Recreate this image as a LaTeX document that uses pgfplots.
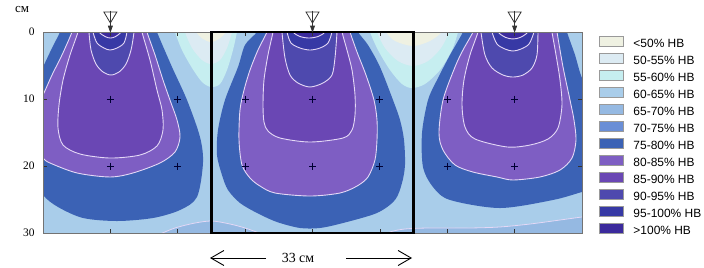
\documentclass[border=0pt]{standalone}
\usepackage{fontspec}
\setmainfont{Liberation Serif}
\newfontfamily\legfont{Liberation Sans}
\usepackage{pgfplots}
\pgfplotsset{compat=1.18}
\usetikzlibrary{arrows.meta}

\definecolor{cA}{HTML}{EFF1E2}
\definecolor{cB}{HTML}{DCEBF3}
\definecolor{cC}{HTML}{C6EEF0}
\definecolor{cD}{HTML}{A9CDEA}
\definecolor{cE}{HTML}{95B9E2}
\definecolor{cF}{HTML}{6A8ED6}
\definecolor{cG}{HTML}{3B62B5}
\definecolor{cH}{HTML}{7E5EC3}
\definecolor{cI}{HTML}{6A47B4}
\definecolor{cJ}{HTML}{4E49AE}
\definecolor{cK}{HTML}{3739A5}
\definecolor{cL}{HTML}{3B2A9C}
\definecolor{cline}{HTML}{E4D8F6}

\pgfdeclareplotmark{emitter}{%
  \pgfsetlinewidth{0.8bp}%
  \pgfpathmoveto{\pgfqpoint{-6.5bp}{20bp}}%
  \pgfpathlineto{\pgfqpoint{6.5bp}{20bp}}%
  \pgfpathlineto{\pgfqpoint{0bp}{9bp}}%
  \pgfpathclose
  \pgfusepathqstroke
  \pgfpathmoveto{\pgfqpoint{0bp}{21.5bp}}%
  \pgfpathlineto{\pgfqpoint{0bp}{3bp}}%
  \pgfusepathqstroke
  \pgfpathmoveto{\pgfqpoint{-2bp}{6bp}}%
  \pgfpathlineto{\pgfqpoint{2bp}{6bp}}%
  \pgfpathlineto{\pgfqpoint{0bp}{0.5bp}}%
  \pgfpathclose
  \pgfusepathqfillstroke
}

\begin{document}
\begin{tikzpicture}
\useasboundingbox (0,0) rectangle (704bp,268bp);
\pgfplotsset{base/.style={scale only axis, width=539bp, height=201bp,
  at={(43bp,35bp)}, anchor=south west,
  xmin=0, xmax=88, ymin=0, ymax=30, y dir=reverse},
  lvl/.style={draw=cline, line width=0.9bp, smooth},
  blk/.style={draw=none, smooth}}

\begin{axis}[base, hide axis]
% background 60-65
\addplot[fill=cD, draw=none] coordinates {(-2,-2) (90,-2) (90,32) (-2,32)} -- cycle;
% bottom 65-70
\addplot[fill=cE, lvl, line width=0.8bp] coordinates {(16.5,31) (17.47,30.6) (19.10,30.15) (21.55,29.25) (24.82,28.51) (27.59,28.21) (30.53,28.66) (32.98,29.25) (35.76,30.15) (37.06,30.6) (38,31)} -- cycle;
\addplot[fill=cE, lvl, line width=0.8bp] coordinates {(55,31) (55.51,30.6) (56.65,29.85) (59.10,29.40) (63.18,29.25) (69.71,29.25) (74.61,29.10) (79.51,28.66) (84.41,28.06) (88,27.61) (90,27.4) (91,33)} -- cycle;
% top arches between emitters
\addplot[fill=cC, blk] coordinates {(21.3,-1.5) (21.55,0) (22.69,2.69) (24.33,5.37) (25.96,7.46) (27.43,8.21) (28.90,7.76) (30.04,5.67) (31.02,2.69) (31.67,0) (31.9,-1.5)} -- cycle;
\addplot[fill=cB, blk] coordinates {(23.0,-1.5) (23.18,0) (24.33,2.39) (25.96,4.18) (27.43,4.78) (28.90,4.18) (30.04,2.39) (30.86,0) (31.0,-1.5)} -- cycle;
\addplot[fill=cA, blk] coordinates {(24.8,-1) (24.98,0) (26.12,1.04) (27.43,1.49) (28.73,1.04) (29.88,0) (30.0,-1)} -- cycle;
\addplot[fill=cC, blk] coordinates {(53.1,-1.5) (53.39,0) (54.69,2.69) (56.65,5.67) (58.61,7.76) (60.24,8.36) (62.37,7.76) (64.82,5.67) (66.78,2.69) (67.76,0) (68.0,-1.5)} -- cycle;
\addplot[fill=cB, blk] coordinates {(54.3,-1.5) (54.53,0) (55.84,2.39) (57.96,4.33) (60.41,5.07) (62.86,4.33) (64.98,2.39) (66.29,0) (66.5,-1.5)} -- cycle;
\addplot[fill=cA, blk] coordinates {(55.8,-1) (56.0,0) (57.47,1.34) (60.41,2.09) (63.18,1.34) (65.14,0) (65.3,-1)} -- cycle;

% ---- left emitter
\addplot[fill=cG, blk] coordinates {(3.2,-1.5) (2.78,0) (1.47,2.39) (0,5.22) (-2,9) (-2,21) (0,24.33) (2.45,26.12) (6.53,27.76) (12.08,28.21) (17.96,27.76) (22.37,26.57) (25.14,24.63) (26.12,19.55) (25.63,15.67) (23.51,10.15) (21.06,5.22) (18.61,0) (18.2,-1.5)} -- cycle;
\addplot[fill=cH, lvl] coordinates {(5.0,-1.5) (4.73,0) (3.10,3.43) (1.47,6.42) (0,9.40) (-2,13) (-2,17) (0,18.81) (1.14,19.55) (5.55,21.04) (10.94,21.64) (14.69,21.04) (19.10,19.55) (21.55,17.91) (22.37,15.67) (21.88,13.13) (20.73,10.15) (19.59,7.16) (18.29,3.43) (16.98,0) (16.7,-1.5)} -- cycle;
\addplot[fill=cI, lvl] coordinates {(5.9,-1.5) (5.71,0) (4.41,3.43) (3.27,7.16) (2.61,10.90) (2.45,14.33) (3.27,16.87) (6.04,18.21) (10.94,18.81) (15.84,18.36) (18.61,17.01) (19.59,14.63) (19.43,11.64) (18.61,8.66) (17.47,4.18) (16.16,0) (15.9,-1.5)} -- cycle;
\addplot[fill=cJ, lvl] coordinates {(7.5,-1.5) (7.51,0) (7.84,2.69) (8.65,4.78) (9.80,5.97) (11.10,6.42) (12.41,5.97) (13.55,4.78) (14.37,2.69) (14.86,0) (14.9,-1.5)} -- cycle;
\addplot[fill=cK, lvl] coordinates {(8.16,-1) (8.16,0) (8.82,1.64) (9.96,2.39) (10.94,2.69) (12.08,2.39) (13.22,1.64) (13.71,0) (13.71,-1)} -- cycle;
\addplot[fill=cL, lvl] coordinates {(9.14,-1) (9.14,0) (10.2,0.7) (11.0,0.9) (11.8,0.7) (12.73,0) (12.73,-1)} -- cycle;

% ---- centre emitter
\addplot[fill=cG, blk] coordinates {(35.5,-1.5) (34.94,0) (32.98,1.94) (31.84,5.22) (29.71,10.15) (28.57,14.63) (28.41,18.36) (29.22,21.34) (30.20,23.58) (32.16,25.52) (34.94,27.01) (38.20,28.36) (41.96,29.25) (45.22,29.25) (48.98,28.51) (54.53,27.01) (57.47,25.07) (58.61,22.54) (59.10,19.85) (58.94,16.12) (58.29,13.13) (57.14,10.15) (55.02,5.22) (53.06,1.94) (51.43,0) (51.0,-1.5)} -- cycle;
\addplot[fill=cH, lvl] coordinates {(37.0,-1.5) (36.57,0) (35.10,2.69) (33.80,5.67) (32.82,8.66) (32.16,11.64) (32.00,16.12) (32.49,19.85) (33.80,21.79) (35.43,22.99) (37.88,24.03) (43.59,24.48) (48.49,24.03) (51.27,22.99) (53.06,21.64) (54.20,19.10) (54.53,16.12) (54.53,13.13) (54.04,10.15) (52.73,6.42) (51.27,2.99) (50.12,0) (49.7,-1.5)} -- cycle;
\addplot[fill=cI, lvl] coordinates {(37.7,-1.5) (37.55,0) (36.73,3.43) (36.08,7.16) (35.92,10.90) (36.08,13.43) (36.73,14.78) (38.69,15.82) (43.59,16.42) (48.98,15.82) (50.45,14.63) (50.94,12.39) (50.94,9.40) (50.45,5.67) (49.63,2.69) (48.82,0) (48.6,-1.5)} -- cycle;
\addplot[fill=cJ, lvl] coordinates {(39.0,-1.5) (39.02,0) (39.51,3.88) (40.33,6.42) (41.63,7.61) (43.59,8.21) (45.71,7.61) (47.18,6.42) (47.67,3.88) (48.00,0) (48.0,-1.5)} -- cycle;
\addplot[fill=cK, lvl] coordinates {(39.84,-1) (39.84,0) (40.49,1.64) (41.96,2.39) (43.59,2.69) (45.22,2.39) (46.53,1.64) (47.18,0) (47.18,-1)} -- cycle;
\addplot[fill=cL, lvl] coordinates {(40.82,-1) (40.82,0) (41.96,0.67) (43.43,0.90) (44.90,0.67) (46.04,0) (46.04,-1)} -- cycle;

% ---- right emitter
\addplot[fill=cG, blk] coordinates {(69.0,-1.5) (68.57,0) (66.45,3.43) (64.33,7.16) (62.86,10.15) (61.88,15.07) (62.04,20.15) (63.67,23.13) (66.45,25.07) (74.61,26.27) (83.27,25.07) (88,23.88) (90,23.5) (90,10) (88,6.87) (86.86,3.43) (85.55,0) (85.3,-1.5)} -- cycle;
\addplot[fill=cH, lvl] coordinates {(70.5,-1.5) (70.20,0) (68.57,2.69) (67.27,5.22) (65.31,10.15) (64.65,15.07) (65.31,17.61) (67.27,19.85) (70.20,20.90) (74.12,21.64) (76.73,22.09) (81.14,21.64) (84.41,20.60) (86.37,18.81) (87.02,16.12) (86.69,13.13) (86.04,10.15) (84.90,5.22) (83.92,0) (83.7,-1.5)} -- cycle;
\addplot[fill=cI, lvl] coordinates {(71.2,-1.5) (71.02,0) (69.71,3.43) (68.73,7.16) (68.41,10.90) (68.90,14.18) (70.53,15.97) (75.76,17.16) (79.51,16.87) (82.45,15.97) (84.08,14.33) (84.73,10.90) (84.41,7.16) (83.76,3.43) (83.10,0) (82.9,-1.5)} -- cycle;
\addplot[fill=cJ, lvl] coordinates {(71.5,-1.5) (71.51,0) (72.16,3.43) (73.31,5.37) (75.10,6.42) (76.73,6.72) (78.37,6.42) (79.84,5.37) (80.65,3.43) (80.82,0) (80.82,-1.5)} -- cycle;
\addplot[fill=cK, lvl] coordinates {(73.31,-1) (73.31,0) (74.12,1.79) (75.43,2.54) (76.73,2.84) (78.04,2.54) (79.35,1.79) (80.16,0) (80.16,-1)} -- cycle;
\addplot[fill=cL, lvl] coordinates {(74.29,-1) (74.29,0) (75.5,0.8) (76.73,1.04) (77.96,0.8) (79.18,0) (79.18,-1)} -- cycle;
\end{axis}

\begin{axis}[base, clip=false,
  axis line style={draw=black!55, line width=0.5bp},
  tick align=inside, major tick length=4bp,
  xtick={0,11,...,88}, xticklabel=\empty,
  ytick={0,10,20,30}, yticklabel pos=left,
  tick style={draw=black!80, line width=0.6bp},
  /pgf/number format/assume math mode=true,
  yticklabel style={font=\fontsize{11.5}{12}\selectfont, xshift=-5bp},
  legend cell align=left,
  legend image code/.code={\draw[#1, draw=black!40, line width=0.5bp] (0bp,-1.5bp) rectangle (24bp,8.5bp);},
  legend style={at={(1.0315,0.9826)}, anchor=north west, draw=none, fill=none,
    inner sep=0pt, outer sep=0pt, row sep=2.8bp, column sep=10bp,
    font=\legfont\fontsize{12}{12}\selectfont,
    nodes={inner sep=0pt, text height=8.5bp, text depth=2.5bp}},
]
\addplot[only marks, mark=+, mark size=3.5bp, color=black!80!blue, line width=0.8bp, forget plot]
  coordinates {(11,10) (22,10) (33,10) (44,10) (55,10) (66,10) (77,10)
               (11,20) (22,20) (33,20) (44,20) (55,20) (66,20) (77,20)};
\addplot[only marks, mark=emitter, color=black!80, forget plot] coordinates {(11,0) (44,0) (77,0)};
\addplot[black, line width=2.2bp, line join=miter, forget plot] coordinates {(27.5,0) (60.5,0) (60.5,30) (27.5,30)} -- cycle;

\addlegendimage{fill=cA}\addlegendentry{<50\% HB}
\addlegendimage{fill=cB}\addlegendentry{50-55\% HB}
\addlegendimage{fill=cC}\addlegendentry{55-60\% HB}
\addlegendimage{fill=cD}\addlegendentry{60-65\% HB}
\addlegendimage{fill=cE}\addlegendentry{65-70\% HB}
\addlegendimage{fill=cF}\addlegendentry{70-75\% HB}
\addlegendimage{fill=cG}\addlegendentry{75-80\% HB}
\addlegendimage{fill=cH}\addlegendentry{80-85\% HB}
\addlegendimage{fill=cI}\addlegendentry{85-90\% HB}
\addlegendimage{fill=cJ}\addlegendentry{90-95\% HB}
\addlegendimage{fill=cK}\addlegendentry{95-100\% HB}
\addlegendimage{fill=cL}\addlegendentry{>100\% HB}
\end{axis}

\node[font=\fontsize{13}{13}\selectfont] at (22bp,258bp) {см};
\node[font=\fontsize{14}{14}\selectfont] at (298bp,10bp) {33 см};
\draw[line width=0.9bp, -{Straight Barb[length=13bp,width=15bp]}] (266bp,10bp) -- (210bp,10bp);
\draw[line width=0.9bp, -{Straight Barb[length=13bp,width=15bp]}] (346bp,10bp) -- (412bp,10bp);
\end{tikzpicture}
\end{document}
